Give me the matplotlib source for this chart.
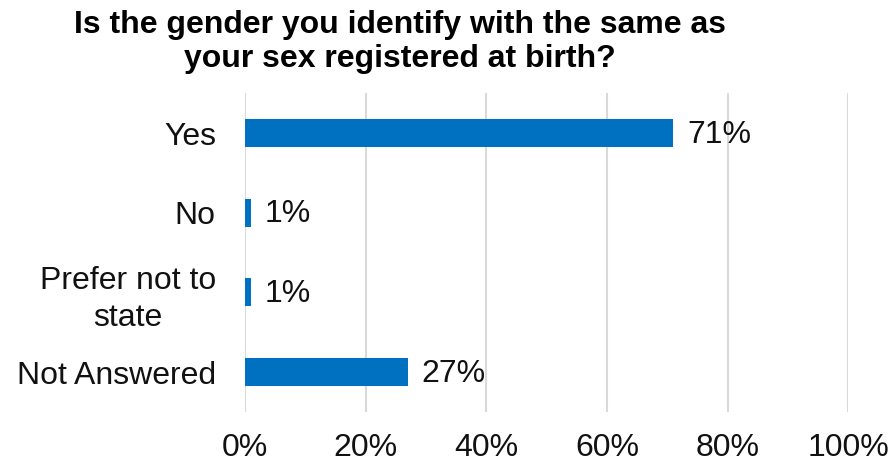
import matplotlib.pyplot as plt
from matplotlib.ticker import PercentFormatter

categories = ["Yes", "No", "Prefer not to\nstate", "Not Answered"]
values = [71, 1, 1, 27]
x_ticks = [0, 20, 40, 60, 80, 100]

plt.rcParams["font.family"] = ["Liberation Sans", "DejaVu Sans"]

fig = plt.figure(figsize=(8.91, 4.66), dpi=100)
ax = fig.add_axes([0.275, 0.116, 0.677, 0.684])

positions = range(len(categories))
ax.barh(positions, values, height=0.35, color="#0070C0", zorder=3)
for pos, val in zip(positions, values):
    ax.text(val + 2.3, pos + 0.02, f"{val}%", va="center", ha="left", fontsize=23, color="#111111")

ax.set_xlim(0, 100)
ax.set_ylim(3.5, -0.5)
ax.set_xticks(x_ticks)
ax.xaxis.set_major_formatter(PercentFormatter(decimals=0))
ax.set_yticks(list(positions))
ax.set_yticklabels(categories, multialignment="center", linespacing=1.3)
ax.tick_params(axis="x", length=0, pad=15, labelsize=23, labelcolor="#111111")
ax.tick_params(axis="y", length=0, pad=21, labelsize=23, labelcolor="#111111")
ax.grid(axis="x", color="#D9D9D9", linewidth=1.5, zorder=0)
for spine in ax.spines.values():
    spine.set_visible(False)

fig.text(0.449, 0.91, "Is the gender you identify with the same as\nyour sex registered at birth?",
         ha="center", va="center", fontsize=23, fontweight="bold", linespacing=1.2)

fig.savefig("out.png", dpi=100)
